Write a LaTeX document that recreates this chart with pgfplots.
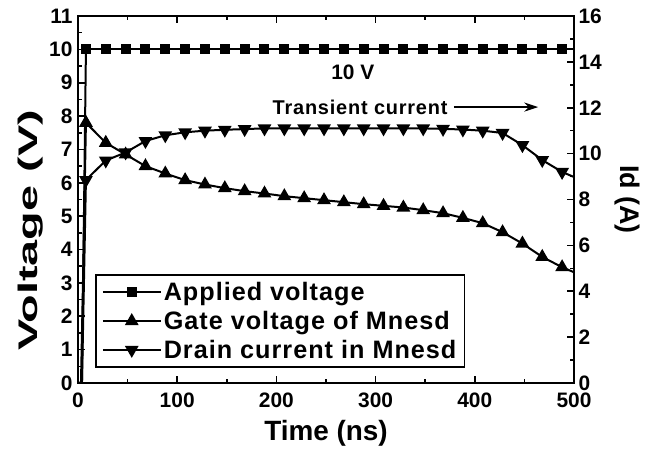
\documentclass[border=0pt]{standalone}
\usepackage{fontspec}
\setmainfont{Liberation Sans}
\newfontfamily\legfont[LetterSpace=4]{Liberation Sans}
\usepackage{pgfplots}
\pgfplotsset{compat=1.18}
\usetikzlibrary{arrows.meta}
\newcommand{\lf}{\legfont\fontsize{22}{27}\selectfont\bfseries}
\newcommand{\legent}[1]{\scalebox{1.15}{\lf #1}}
\begin{document}
\begin{tikzpicture}
\pgfplotsset{
  common/.style={
    scale only axis, width=496bp, height=367bp,
    at={(0,0)}, anchor=south west,
    xmin=0, xmax=500,
    tick align=inside,
    major tick length=7bp, minor tick length=4bp,
    every tick/.style={line width=1.6bp, black},
    axis line style={line width=2.5bp},
    tick label style={font=\fontsize{21}{24}\selectfont\bfseries},
    /pgf/number format/assume math mode=true,
    legend image code/.code={
      \draw[#1] (0bp,0bp) -- (58bp,0bp);
      \draw[#1] plot coordinates {(29bp,0bp)};
    },
  },
  ln/.style={line width=2bp, black},
}
\begin{axis}[common, name=ax,
  ymin=0, ymax=11, ytick={0,...,11}, minor y tick num=1,
  xtick={0,100,...,500}, minor x tick num=1,
  xtick pos=both, ytick pos=left,
  xticklabel style={yshift=-6bp},
  yticklabel style={xshift=-2bp},
]
% Applied voltage
\addplot[ln, forget plot] coordinates {(0,0) (4,0) (8,10)};
\addplot[ln, mark=square*, mark size=4bp] coordinates {
(8,10) (28,10) (48,10) (68,10) (88,10) (108,10) (128,10) (148,10) (168,10) (188,10)
(208,10) (228,10) (248,10) (268,10) (288,10) (308,10) (328,10) (348,10) (368,10) (388,10)
(408,10) (428,10) (448,10) (468,10) (488,10)};
\addplot[ln, forget plot] coordinates {(488,10) (500,10)};
% Gate voltage
\addplot[ln, forget plot] coordinates {(0,0) (3,0) (5,3) (8,7.8)};
\addplot[ln, mark=triangle*, mark size=6bp] coordinates {
(8,7.8) (28,7.2) (48,6.85) (68,6.5) (88,6.28) (108,6.08) (128,5.95) (148,5.84) (168,5.75)
(188,5.68) (208,5.6) (228,5.54) (248,5.48) (268,5.42) (288,5.36) (308,5.31) (328,5.26)
(348,5.18) (368,5.09) (388,4.95) (408,4.79) (428,4.52) (448,4.18) (468,3.78) (488,3.47)};
\addplot[ln, forget plot] coordinates {(488,3.47) (500,3.32)};
\node[font=\fontsize{21}{24}\selectfont\bfseries] at (axis cs:277,9.31) {10 V};
\node[font=\legfont\fontsize{20}{24}\selectfont\bfseries, anchor=east] at (axis cs:376,8.27) {Transient current};
\draw[line width=2.5bp, -{Stealth[length=14bp,width=9bp]}] (axis cs:379,8.27) -- (axis cs:464,8.27);
\end{axis}
\begin{axis}[common,
  ymin=0, ymax=16, ytick={0,2,...,16}, minor y tick num=1,
  axis x line=none, axis y line*=right,
  yticklabel style={xshift=1bp},
  legend style={at={(0.0343,0.0409)}, anchor=south west, draw=black, line width=1.5bp,
    fill=white, inner xsep=6bp, inner ysep=3bp, row sep=0bp,
    nodes={inner ysep=4.5bp},
    /tikz/every even column/.append style={column sep=6bp}},
  legend cell align=left,
]
\addlegendimage{ln, mark=square*, mark size=4bp}
\addlegendentry{\legent{Applied voltage}}
\addlegendimage{ln, mark=triangle*, mark size=6bp}
\addlegendentry{\legent{Gate voltage of Mnesd}}
\addplot[ln, forget plot] coordinates {(0,0) (4,0) (8,8.85)};
\addplot[ln, mark=triangle*, mark size=6bp, mark options={rotate=180}] coordinates {
(8,8.85) (28,9.7) (48,10.05) (68,10.55) (88,10.8) (108,10.93) (128,11.0) (148,11.04) (168,11.07)
(188,11.1) (208,11.1) (228,11.1) (248,11.1) (268,11.1) (288,11.1) (308,11.1) (328,11.1)
(348,11.1) (368,11.08) (388,11.05) (408,11.0) (428,10.9) (448,10.37) (468,9.72) (488,9.2)};
\addlegendentry{\legent{Drain current in Mnesd}}
\addplot[ln, forget plot] coordinates {(488,9.2) (500,8.98)};
\end{axis}
\node[rotate=90, font=\fontsize{27}{30}\selectfont\bfseries] at ([xshift=-47bp,yshift=-31bp]ax.west) {\scalebox{1.74}[1]{Voltage (V)}};
\node[font=\fontsize{28}{30}\selectfont\bfseries] at ([yshift=-50bp]ax.south) {Time (ns)};
\node[rotate=-90, font=\fontsize{27}{30}\selectfont\bfseries] at ([xshift=53bp]ax.east) {Id (A)};
\pgfresetboundingbox
\path (-78bp,-66bp) rectangle (571bp,383bp);
\end{tikzpicture}
\end{document}
